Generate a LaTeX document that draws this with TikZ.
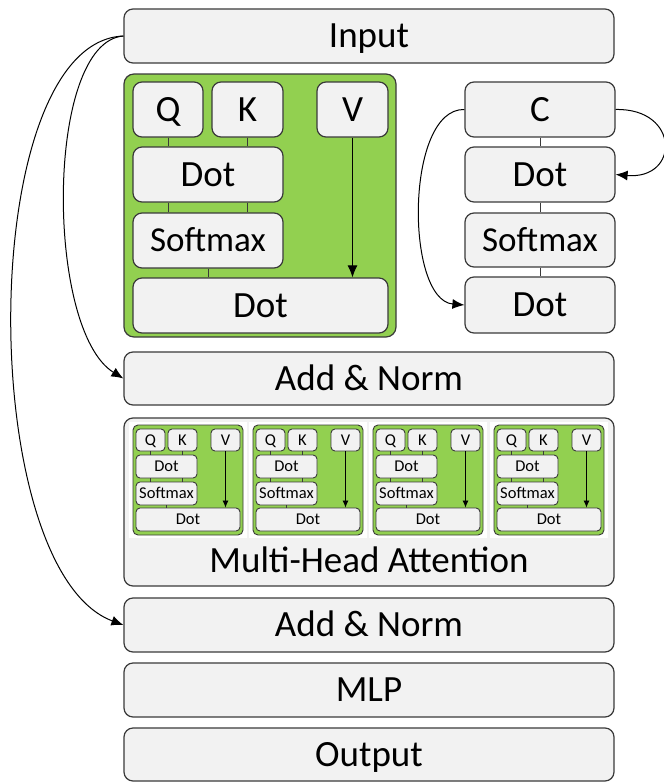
\documentclass[tikz,border=0pt]{standalone}
\usepackage{fontspec}
\setmainfont{Carlito}
\usetikzlibrary{arrows.meta}
\definecolor{boxfill}{HTML}{F2F2F2}
\definecolor{boxline}{HTML}{3A3A3A}
\definecolor{headgreen}{HTML}{92D050}
\tikzset{
  x=1pt, y=-1pt,
  blk/.style={draw=boxline, fill=boxfill, line width=1.2pt, rounded corners=9pt,
    inner sep=0pt, font=\fontsize{37}{42}\selectfont, text height=23.5pt, text depth=0pt},
  sblk/.style={blk, font=\fontsize{35}{40}\selectfont, text height=22.5pt},
  mblk/.style={draw=boxline, fill=boxfill, line width=0.9pt, rounded corners=4pt,
    inner sep=0pt, font=\fontsize{16.5}{19}\selectfont, text height=10.6pt, text depth=0pt},
  grn/.style={draw=boxline, fill=headgreen, line width=1.2pt, rounded corners=10pt},
  mgrn/.style={draw=boxline, fill=headgreen, line width=0.9pt, rounded corners=5pt},
  link/.style={draw=boxline, line width=1pt},
  mlink/.style={draw=boxline, line width=0.8pt},
  arr/.style={draw=black, line width=1pt, -{Latex[length=12pt,width=10pt]}},
  marr/.style={draw=black, line width=0.8pt, -{Latex[length=7pt,width=6pt]}},
}
% box from (x1,y1) to (x2,y2): #1 style, #2 name, #3-#6 corners, #7 text
\newcommand\pbox[7]{%
  \node[#1, minimum width={(#5)-(#3)}, minimum height={(#6)-(#4)}]
    (#2) at ({((#3)+(#5))/2}, {((#4)+(#6))/2}) {#7};}
\begin{document}
\begin{tikzpicture}
\useasboundingbox (0,0) rectangle (664,782);
\fill[white] (0,0) rectangle (664,782);

% main column
\pbox{blk}{inp}{124}{9}{614}{63}{Input}
\pbox{blk}{an1}{124}{352}{614}{405}{Add \& Norm}
\pbox{blk}{mha}{124}{418}{614}{586}{}
\node[font=\fontsize{37}{42}\selectfont, text height=23.5pt, text depth=0pt, inner sep=0pt]
  (mhal) at (369,561) {Multi-Head Attention};
\pbox{blk}{an2}{124}{598}{614}{652}{Add \& Norm}
\pbox{blk}{mlp}{124}{663}{614}{717}{MLP}
\pbox{blk}{out}{124}{728}{614}{781}{Output}

% single attention head
\path[grn] (124,74) rectangle (396,337);
\pbox{blk}{q}{133}{82}{203}{137}{Q}
\pbox{blk}{k}{212}{82}{283}{137}{K}
\pbox{blk}{v}{317}{82}{388}{137}{V}
\pbox{blk}{dota}{133}{147}{283}{202}{Dot}
\pbox{sblk}{soft}{133}{213}{283}{268}{Softmax}
\pbox{blk}{dotb}{133}{278}{388}{333}{Dot}
\draw[link] (q.south) -- (q.south |- dota.north);
\draw[link] (k.south) -- (k.south |- dota.north);
\draw[link] (q.south |- dota.south) -- (q.south |- soft.north);
\draw[link] (k.south |- dota.south) -- (k.south |- soft.north);
\draw[link] (soft.south) -- (soft.south |- dotb.north);
\draw[arr] (v.south) -- (v.south |- dotb.north);

% context branch
\pbox{blk}{c}{465}{82}{615}{137}{C}
\pbox{blk}{cdota}{465}{147}{615}{202}{Dot}
\pbox{sblk}{csoft}{465}{213}{615}{267}{Softmax}
\pbox{blk}{cdotb}{465}{277}{615}{333}{Dot}
\draw[link] (c) -- (cdota);
\draw[link] (cdota) -- (csoft);
\draw[link] (csoft) -- (cdotb);
\draw[arr] (c.west) .. controls (405,108) and (405,300) .. (cdotb.west);
\draw[arr] (c.east) .. controls (680,108) and (680,180) .. (cdota.east);

% residual connections
\draw[arr] (inp.west) .. controls (45,42) and (45,330) .. (an1.west);
\draw[arr] (inp.west) .. controls (-25,42) and (-25,570) .. (an2.west);

% four small heads inside the multi-head block
\foreach \i/\x in {1/133,2/253,3/373,4/494}{
  \fill[white] (\x-4,422) rectangle (\x+114,538);
  \path[mgrn] (\x,425) rectangle (\x+110,535);
  \pbox{mblk}{h\i q}{\x+3}{429}{\x+32}{451}{Q}
  \pbox{mblk}{h\i k}{\x+35}{429}{\x+64}{451}{K}
  \pbox{mblk}{h\i v}{\x+78}{429}{\x+107}{451}{V}
  \pbox{mblk}{h\i da}{\x+3}{455}{\x+64}{478}{Dot}
  \pbox{mblk}{h\i s}{\x+3}{482}{\x+64}{505}{Softmax}
  \pbox{mblk}{h\i db}{\x+3}{508}{\x+107}{531}{Dot}
  \draw[mlink] (h\i q.south) -- (h\i q.south |- h\i da.north);
  \draw[mlink] (h\i k.south) -- (h\i k.south |- h\i da.north);
  \draw[mlink] (h\i q.south |- h\i da.south) -- (h\i q.south |- h\i s.north);
  \draw[mlink] (h\i k.south |- h\i da.south) -- (h\i k.south |- h\i s.north);
  \draw[mlink] (h\i s.south) -- (h\i s.south |- h\i db.north);
  \draw[marr] (h\i v.south) -- (h\i v.south |- h\i db.north);
}
\end{tikzpicture}
\end{document}
